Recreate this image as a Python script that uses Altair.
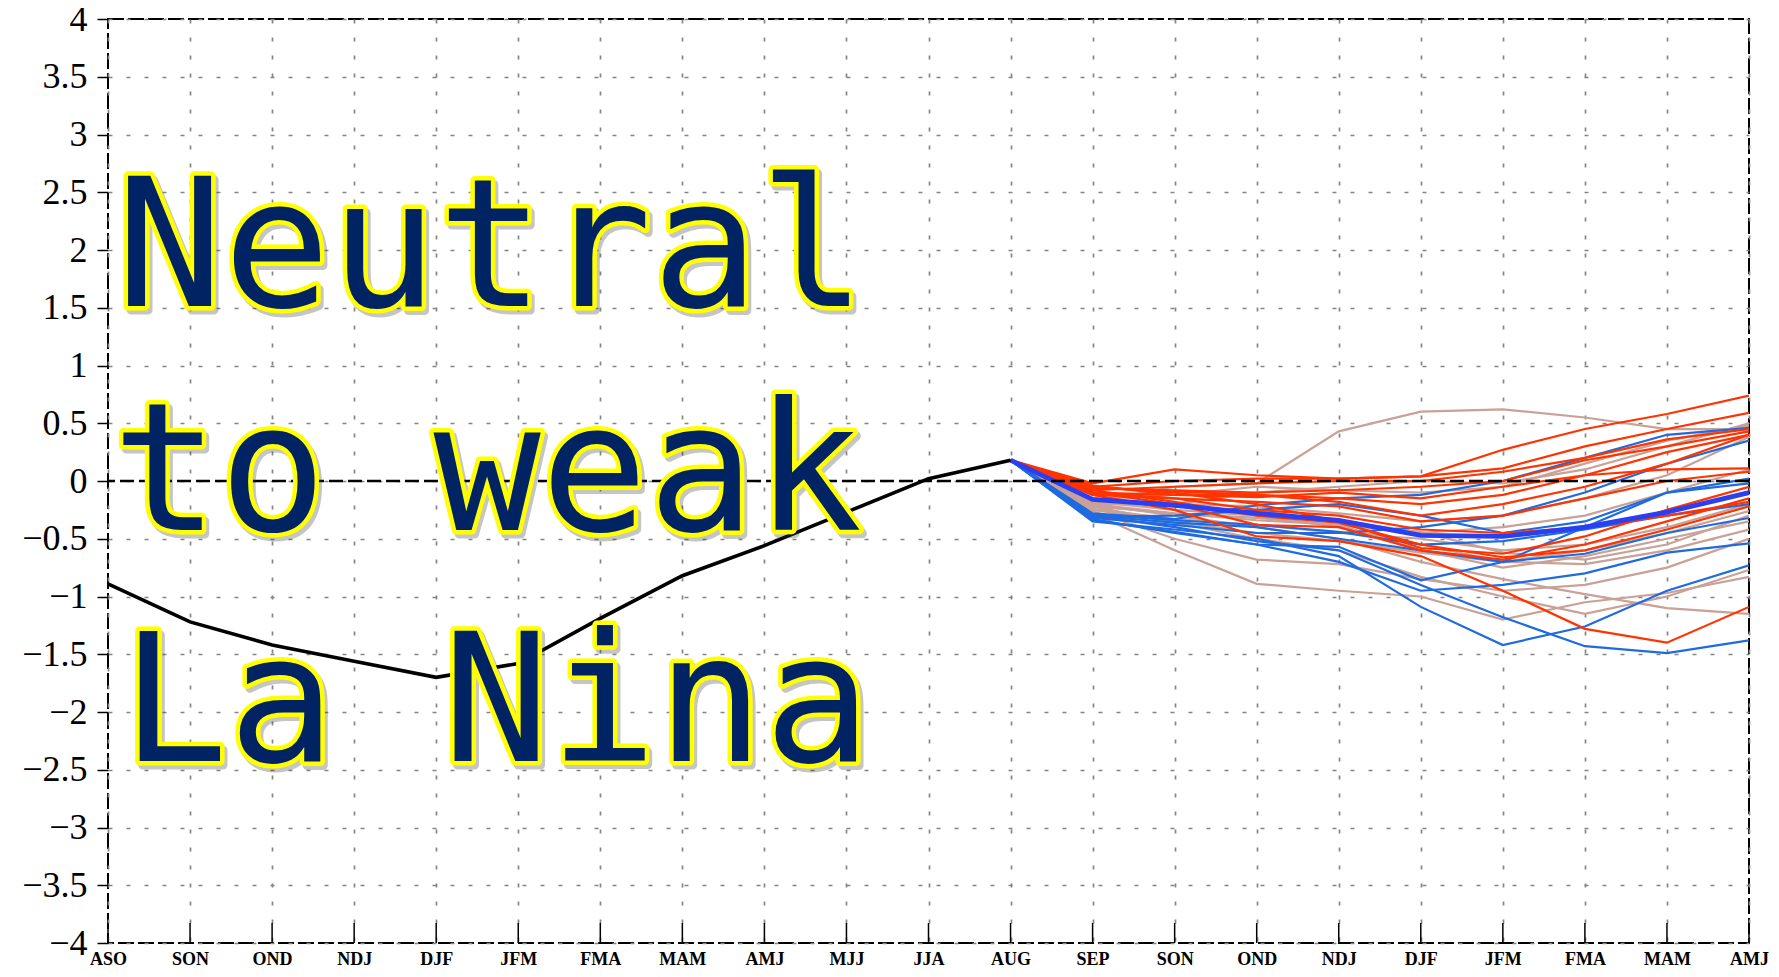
import altair as alt
import pandas as pd

# ---------------- data ----------------
labels = ["ASO", "SON", "OND", "NDJ", "DJF", "JFM", "FMA", "MAM", "AMJ", "MJJ", "JJA",
          "AUG", "SEP", "SON", "OND", "NDJ", "DJF", "JFM", "FMA", "MAM", "AMJ"]
y_ticks = [-4, -3.5, -3, -2.5, -2, -1.5, -1, -0.5, 0, 0.5, 1, 1.5, 2, 2.5, 3, 3.5, 4]

# observed (ASO .. AUG)
obs_values = [-0.89, -1.22, -1.42, -1.56, -1.70, -1.58, -1.19, -0.82, -0.56, -0.27, 0.02, 0.18]

# forecast members: SEP, SON, OND, NDJ, DJF, JFM, FMA, MAM, AMJ (all start from AUG obs)
tan_members = [
    [-0.18, -0.05, -0.02, 0.43, 0.60, 0.62, 0.55, 0.45, 0.45],
    [-0.20, -0.20, -0.10, -0.05, 0.00, -0.02, 0.10, 0.30, 0.50],
    [-0.22, -0.28, -0.32, -0.38, -0.45, -0.40, -0.30, -0.10, 0.10],
    [-0.25, -0.35, -0.45, -0.52, -0.62, -0.70, -0.60, -0.45, -0.26],
    [-0.28, -0.60, -0.89, -0.95, -1.00, -1.20, -1.05, -0.97, -0.83],
    [-0.26, -0.50, -0.68, -0.72, -0.85, -0.95, -0.90, -0.75, -0.50],
    [-0.20, -0.30, -0.40, -0.50, -0.70, -0.85, -0.98, -1.10, -1.15],
    [-0.18, -0.25, -0.30, -0.40, -0.55, -0.70, -0.72, -0.60, -0.42],
    [-0.24, -0.33, -0.38, -0.45, -0.50, -0.60, -0.55, -0.40, -0.20],
    [-0.15, -0.20, -0.22, -0.28, -0.35, -0.30, -0.15, 0.05, 0.38],
    [-0.22, -0.36, -0.50, -0.60, -0.83, -1.00, -1.15, -1.00, -0.77],
    [-0.17, -0.22, -0.26, -0.35, -0.44, -0.62, -0.68, -0.55, -0.30],
    [-0.20, -0.28, -0.34, -0.38, -0.60, -0.75, -0.65, -0.50, -0.35],
    [-0.16, -0.12, -0.05, -0.08, -0.10, -0.05, 0.15, 0.35, 0.48],
]
blue_members = [
    [-0.28, -0.33, -0.21, -0.15, -0.12, 0.00, 0.20, 0.40, 0.46],
    [-0.32, -0.38, -0.45, -0.45, -0.40, -0.30, -0.10, 0.15, 0.35],
    [-0.30, -0.36, -0.40, -0.50, -0.60, -0.70, -0.40, -0.10, -0.02],
    [-0.34, -0.44, -0.55, -0.57, -0.86, -0.70, -0.63, -0.45, -0.32],
    [-0.35, -0.42, -0.50, -0.65, -1.09, -1.42, -1.26, -0.95, -0.73],
    [-0.30, -0.40, -0.52, -0.60, -0.90, -1.18, -1.43, -1.49, -1.38],
    [-0.33, -0.45, -0.55, -0.70, -0.95, -0.90, -0.80, -0.62, -0.54],
    [-0.29, -0.34, -0.38, -0.44, -0.55, -0.52, -0.42, -0.30, -0.20],
    [-0.31, -0.30, -0.25, -0.20, -0.30, -0.45, -0.35, -0.10, 0.02],
]
red_members = [
    [-0.02, 0.10, 0.05, 0.02, 0.04, 0.27, 0.45, 0.58, 0.74],
    [-0.05, 0.00, 0.02, 0.02, 0.04, 0.11, 0.30, 0.45, 0.59],
    [-0.08, -0.05, -0.02, 0.00, 0.00, 0.08, 0.20, 0.36, 0.45],
    [-0.06, -0.08, -0.10, -0.08, -0.05, 0.00, 0.18, 0.30, 0.43],
    [-0.10, -0.12, -0.14, -0.10, -0.15, -0.05, 0.05, 0.10, 0.11],
    [-0.12, -0.15, -0.18, -0.22, -0.35, -0.30, -0.15, 0.00, 0.08],
    [-0.05, -0.10, -0.20, -0.35, -0.58, -0.63, -0.48, -0.25, -0.05],
    [-0.10, -0.20, -0.38, -0.40, -0.60, -0.68, -0.55, -0.35, -0.15],
    [-0.08, -0.18, -0.30, -0.36, -0.55, -0.66, -0.60, -0.42, -0.22],
    [-0.12, -0.25, -0.48, -0.52, -0.65, -0.95, -1.28, -1.40, -1.09],
    [-0.04, -0.12, -0.12, -0.15, -0.20, -0.12, 0.05, 0.25, 0.40],
    [-0.10, -0.15, -0.25, -0.30, -0.42, -0.45, -0.40, -0.30, -0.18],
    [-0.06, -0.09, -0.12, -0.18, -0.30, -0.20, -0.05, 0.15, 0.40],
]
mean_values = [-0.16, -0.21, -0.28, -0.34, -0.47, -0.48, -0.40, -0.27, -0.10]

overlay_lines = ["Neutral", "to weak", "La Nina"]

group_colors = {"tan": "#c9a196", "blue": "#1f6ae0", "red": "#ff3300"}

# ---------------- tables ----------------
start_idx = len(obs_values) - 1
start_val = obs_values[-1]

obs_df = pd.DataFrame({"idx": list(range(len(obs_values))), "value": obs_values})

rows = []
for group, members in (("tan", tan_members), ("blue", blue_members), ("red", red_members)):
    for k, m in enumerate(members):
        for j, v in enumerate([start_val] + m):
            rows.append({"idx": start_idx + j, "value": v, "member": f"{group}{k}", "group": group})
members_df = pd.DataFrame(rows)

mean_df = pd.DataFrame({"idx": [start_idx + j for j in range(len(mean_values) + 1)],
                        "value": [start_val] + mean_values})
zero_df = pd.DataFrame({"value": [0]})
tick_df = pd.DataFrame({"idx": list(range(len(labels)))})

W, H = 1641, 924

grid_kw = dict(grid=True, gridColor="#858585", gridDash=[4, 14], gridWidth=1.7)
label_js = "[" + ",".join(f"'{l}'" for l in labels) + "][datum.value]"

xaxis = alt.Axis(values=list(range(len(labels))), labelExpr=label_js, ticks=False, domain=False,
                 labelFont="Liberation Serif", labelFontWeight="bold", labelFontSize=18,
                 labelColor="black", labelPadding=7, labelFlush=False, labelOverlap=False,
                 title=None, **grid_kw)
yaxis = alt.Axis(values=y_ticks, format=".1~f", ticks=True, tickSize=11, tickColor="black",
                 tickWidth=1.5, domain=False, labelFont="Liberation Serif", labelFontSize=36,
                 labelColor="black", labelPadding=10, labelFlush=False, labelOverlap=False,
                 title=None, **grid_kw)

X = alt.X("idx:Q", scale=alt.Scale(domain=[0, len(labels) - 1], nice=False, zero=False), axis=xaxis)
Y = alt.Y("value:Q", scale=alt.Scale(domain=[-4, 4], nice=False, zero=False), axis=yaxis)

layers = []
for group in ("tan", "blue", "red"):
    layers.append(
        alt.Chart(members_df).transform_filter(alt.datum.group == group)
        .mark_line(color=group_colors[group], strokeWidth=2.2, clip=True)
        .encode(x=X, y=Y, detail="member:N")
    )

layers.append(alt.Chart(mean_df).mark_line(color="#2b3ff2", strokeWidth=4.8).encode(x=X, y=Y))
layers.append(alt.Chart(zero_df).mark_rule(color="black", strokeWidth=2.5, strokeDash=[14, 5]).encode(y=Y))
layers.append(alt.Chart(obs_df).mark_line(color="black", strokeWidth=3.6).encode(x=X, y=Y))
layers.append(alt.Chart(tick_df).mark_rule(color="black", strokeWidth=1.5)
              .encode(x=X, y=alt.value(H - 20), y2=alt.value(H)))

text_pos = [(8, 287), (4, 511), (13, 742)]
for txt, (xp, yb) in zip(overlay_lines, text_pos):
    tdf = pd.DataFrame({"t": [txt]})
    base = alt.Chart(tdf)
    common = dict(font="DejaVu Sans Mono", fontSize=178, align="left", baseline="alphabetic")
    layers.append(base.mark_text(fill="#333333", stroke="#333333", strokeWidth=9, opacity=0.28,
                                 strokeJoin="round", dx=3, dy=4, **common)
                  .encode(text="t:N", x=alt.value(xp), y=alt.value(yb)))
    layers.append(base.mark_text(fill="#ffff00", stroke="#ffff00", strokeWidth=9,
                                 strokeJoin="round", **common)
                  .encode(text="t:N", x=alt.value(xp), y=alt.value(yb)))
    layers.append(base.mark_text(fill="#002463", **common)
                  .encode(text="t:N", x=alt.value(xp), y=alt.value(yb)))

chart = alt.layer(*layers).properties(
    width=W, height=H,
    autosize=alt.AutoSizeParams(type="none"),
    padding={"left": 100, "top": 11, "right": 22, "bottom": 26},
    background="white",
).configure_view(stroke="black", strokeWidth=2, strokeDash=[16, 4])

chart.save("out.html", embed_options={"renderer": "svg", "actions": False})
